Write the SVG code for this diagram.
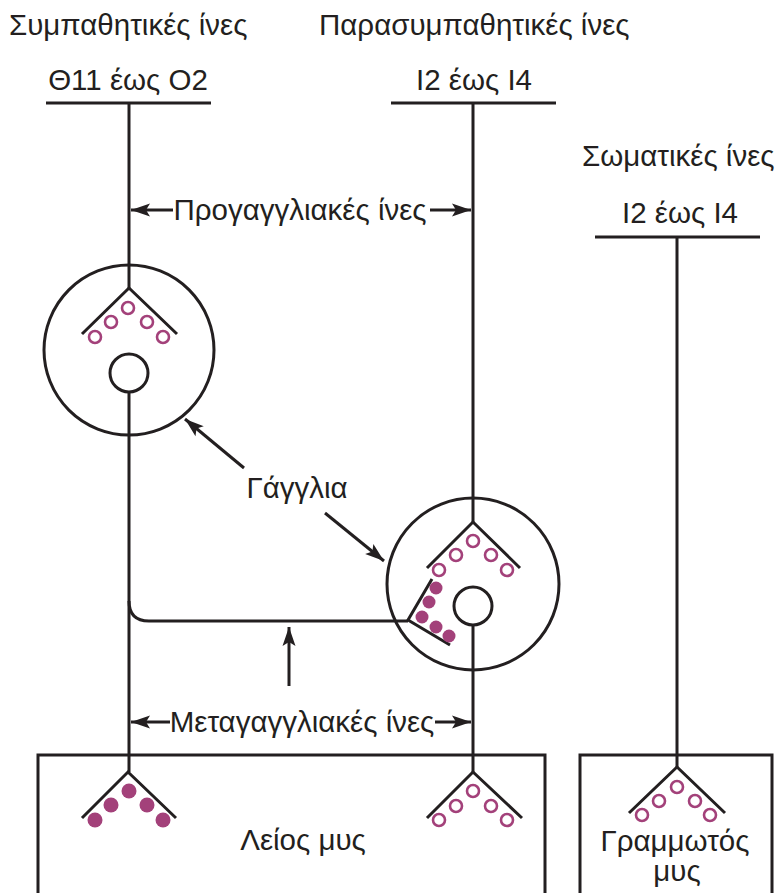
<svg xmlns="http://www.w3.org/2000/svg" width="776" height="893" viewBox="0 0 776 893">
<defs>
<style>
.ln{fill:none;stroke:#231f20;stroke-width:3}
.oc{fill:none;stroke:#a3417a;stroke-width:2.6}
.fc{fill:#a3417a}
.t{font-family:"Liberation Sans",Arial,sans-serif;font-size:29.5px;fill:#231f20}
.m{text-anchor:middle}
</style>
<marker id="ah" markerWidth="20" markerHeight="14" viewBox="-20 -7 20 14" refX="0" refY="0" orient="auto" markerUnits="userSpaceOnUse">
<path d="M0,0 L-19,-6.5 L-15,0 L-19,6.5 Z" fill="#231f20"/>
</marker>
</defs>
<rect width="776" height="893" fill="#fff"/>

<g id="labels">
<text class="t" x="9" y="35">Συμπαθητικές ίνες</text>
<text class="t" x="319" y="35">Παρασυμπαθητικές ίνες</text>
<text class="t" x="582" y="166">Σωματικές ίνες</text>
</g>

<g id="sym-origin">
<text class="t m" x="128" y="90">Θ11 έως Ο2</text>
<line class="ln" x1="46" y1="103" x2="211" y2="103"/>
</g>
<g id="para-origin">
<text class="t m" x="474" y="90">Ι2 έως Ι4</text>
<line class="ln" x1="391" y1="103" x2="556" y2="103"/>
</g>
<g id="somatic-origin">
<text class="t m" x="680" y="223">Ι2 έως Ι4</text>
<line class="ln" x1="595" y1="237" x2="760" y2="237"/>
</g>

<g id="sym-ganglion">
<circle class="ln" cx="129" cy="350" r="85"/>
<polyline class="ln" points="82,334 129,288 177,334"/>
<circle class="oc" cx="95" cy="337" r="6"/>
<circle class="oc" cx="111" cy="322" r="6"/>
<circle class="oc" cx="128" cy="308" r="6"/>
<circle class="oc" cx="147" cy="322" r="6"/>
<circle class="oc" cx="163" cy="337" r="6"/>
<circle class="ln" cx="129" cy="373" r="19"/>
</g>

<g id="para-ganglion">
<circle class="ln" cx="473" cy="584" r="86"/>
<polyline class="ln" points="427,568 473,522 520,568"/>
<circle class="oc" cx="439" cy="570" r="6"/>
<circle class="oc" cx="456" cy="555" r="6"/>
<circle class="oc" cx="473" cy="541" r="6"/>
<circle class="oc" cx="491" cy="555" r="6"/>
<circle class="oc" cx="507" cy="570" r="6"/>
<circle class="ln" cx="473" cy="606" r="19"/>
<polyline class="ln" points="432,579 408,620 450,645"/>
<circle class="fc" cx="436" cy="588" r="6.5"/>
<circle class="fc" cx="429" cy="602" r="6.5"/>
<circle class="fc" cx="422" cy="617" r="6.5"/>
<circle class="fc" cx="436" cy="627" r="6.5"/>
<circle class="fc" cx="449" cy="636" r="6.5"/>
</g>

<g id="smooth-muscle">
<rect class="ln" x="38" y="755" width="507" height="160"/>
<polyline class="ln" points="82,818 128,772 176,818"/>
<circle class="fc" cx="95" cy="820" r="7.5"/>
<circle class="fc" cx="111" cy="805" r="7.5"/>
<circle class="fc" cx="129" cy="791" r="7.5"/>
<circle class="fc" cx="147" cy="805" r="7.5"/>
<circle class="fc" cx="163" cy="820" r="7.5"/>
<polyline class="ln" points="427,818 473,772 522,818"/>
<circle class="oc" cx="439" cy="820" r="6"/>
<circle class="oc" cx="456" cy="806" r="6"/>
<circle class="oc" cx="473" cy="791" r="6"/>
<circle class="oc" cx="491" cy="806" r="6"/>
<circle class="oc" cx="507" cy="820" r="6"/>
<text class="t m" x="303" y="850">Λείος μυς</text>
</g>

<g id="striated-muscle">
<rect class="ln" x="580" y="755" width="192" height="160"/>
<polyline class="ln" points="629,813 677,767 725,813"/>
<circle class="oc" cx="642" cy="815" r="6"/>
<circle class="oc" cx="659" cy="801" r="6"/>
<circle class="oc" cx="677" cy="787" r="6"/>
<circle class="oc" cx="695" cy="801" r="6"/>
<circle class="oc" cx="710" cy="815" r="6"/>
<text class="t m" x="675" y="851">Γραμμωτός</text>
<text class="t m" x="677" y="881">μυς</text>
</g>

<g id="connectors">
<line class="ln" x1="129" y1="103" x2="129" y2="288"/>
<line class="ln" x1="129" y1="392" x2="129" y2="772"/>
<path class="ln" d="M129,601 Q129,621 149,621 L408,621"/>
<line class="ln" x1="473" y1="103" x2="473" y2="522"/>
<line class="ln" x1="473" y1="625" x2="473" y2="772"/>
<line class="ln" x1="677" y1="237" x2="677" y2="767"/>
</g>

<g id="annotations">
<text class="t m" x="300" y="220">Προγαγγλιακές ίνες</text>
<line class="ln" x1="173" y1="210" x2="131" y2="210" marker-end="url(#ah)"/>
<line class="ln" x1="430" y1="210" x2="471" y2="210" marker-end="url(#ah)"/>
<text class="t m" x="302" y="732">Μεταγαγγλιακές ίνες</text>
<line class="ln" x1="170" y1="722" x2="131" y2="722" marker-end="url(#ah)"/>
<line class="ln" x1="435" y1="722" x2="471" y2="722" marker-end="url(#ah)"/>
<text class="t m" x="297" y="498">Γάγγλια</text>
<line class="ln" x1="244" y1="468" x2="185" y2="419" marker-end="url(#ah)"/>
<line class="ln" x1="325" y1="513" x2="384" y2="561" marker-end="url(#ah)"/>
<line class="ln" x1="289" y1="686" x2="289" y2="627" marker-end="url(#ah)"/>
</g>
</svg>
